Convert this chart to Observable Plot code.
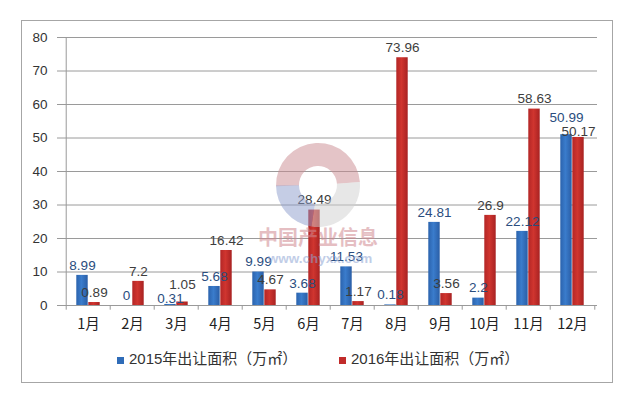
<!DOCTYPE html>
<html>
<head>
<meta charset="utf-8">
<script src="https://cdn.jsdelivr.net/npm/d3@7"></script>
<script src="https://cdn.jsdelivr.net/npm/@observablehq/plot@0.6"></script>
<style>
  html, body { margin: 0; padding: 0; background: #fff; }
  #wrap { position: relative; width: 640px; height: 408px; overflow: hidden;
          font-family: "Liberation Sans", "Noto Sans CJK SC", sans-serif; }
  #border { position: absolute; left: 21px; top: 20px; width: 592px; height: 363px;
            border: 1px solid #a6a6a6; box-sizing: border-box; pointer-events: none; }
  #chart { position: absolute; left: 0; top: 0; }
  #legend { position: absolute; left: 0; top: 349px; width: 640px; height: 22px;
            font-family: "Liberation Sans", "Noto Sans CJK SC", sans-serif; font-size: 15px; color: #333; }
  .item { position: absolute; top: 0; white-space: nowrap; line-height: 20px; }
  .sw { display: inline-block; width: 7px; height: 7px; margin-right: 5px; vertical-align: 0px; }
</style>
</head>
<body>
<div id="wrap">
  <div id="chart"></div>
  <div id="border"></div>
  <div id="legend"></div>
</div>
<script>
const months = ["1月","2月","3月","4月","5月","6月","7月","8月","9月","10月","11月","12月"];
const area2015 = [8.99, 0, 0.31, 5.68, 9.99, 3.68, 11.53, 0.18, 24.81, 2.2, 22.12, 50.99];
const area2016 = [0.89, 7.2, 1.05, 16.42, 4.67, 28.49, 1.17, 73.96, 3.56, 26.9, 58.63, 50.17];
const seriesNames = ["2015年出让面积（万㎡）", "2016年出让面积（万㎡）"];
const yTicks = [0, 10, 20, 30, 40, 50, 60, 70, 80];
const watermark = ["中国产业信息", "www.chyxx.com"];

const W = 640, H = 340;
const mL = 62, mR = 43, mT = 37, mB = 35;
const bw = (W - mL - mR) / months.length;
const barW = 12;
const k = (H - mT - mB) / 80;          // pixels per unit
const off = 10 / k, gap = 14 / k, minOff = 6 / k;

// label placement: above bar, with pairs that would collide pushed apart
const lab15 = [], lab16 = [];
months.forEach((m, i) => {
  const b = area2015[i], r = area2016[i];
  let yb = b + off, yr = r + off;
  if (Math.abs(yb - yr) < gap) {
    const mid = (yb + yr) / 2;
    if (b >= r) { yr = Math.max(mid - gap / 2, r + minOff); yb = yr + gap; }
    else { yb = Math.max(mid - gap / 2, b + minOff); yr = yb + gap; }
  }
  lab15.push({month: m, y: yb, text: String(b)});
  lab16.push({month: m, y: yr, text: String(r)});
});

const d15 = months.map((m, i) => ({month: m, value: area2015[i]}));
const d16 = months.map((m, i) => ({month: m, value: area2016[i]}));
const gridTicks = yTicks.filter(t => t > 0);

const plot = Plot.plot({
  width: W, height: H,
  marginLeft: mL, marginRight: mR, marginTop: mT, marginBottom: mB,
  style: {background: "transparent", fontFamily: "Liberation Sans, Noto Sans CJK SC, sans-serif"},
  x: {domain: months, padding: 0, label: null},
  y: {domain: [0, 80], label: null},
  marks: [
    Plot.ruleY(gridTicks, {stroke: "#9a9a9a", strokeWidth: 1}),
    Plot.axisY({ticks: yTicks, tickSize: 5, tickPadding: 10, stroke: "#9a9a9a",
                fill: "#333", fontSize: 13.5, label: null}),
    Plot.axisX({tickSize: 0, tickPadding: 13, fill: "#222", fontSize: 14.5, label: null,
                fontFamily: "Noto Sans CJK SC, sans-serif"}),
    Plot.barY(d15, {x: "month", y: "value", fill: "url(#gBlue)",
                    insetLeft: bw / 2 - barW, insetRight: bw / 2}),
    Plot.barY(d16, {x: "month", y: "value", fill: "url(#gRed)",
                    insetLeft: bw / 2, insetRight: bw / 2 - barW}),
    Plot.ruleY([0], {stroke: "#9a9a9a", strokeWidth: 1}),
    Plot.ruleX([months[0]], {x: d => d, y1: 0, y2: 80, dx: -bw / 2, stroke: "#9a9a9a"}),
    Plot.ruleX(months, {x: d => d, y1: 0, y2: -1.4, dx: -bw / 2, stroke: "#9a9a9a"}),
    Plot.ruleX([months[months.length - 1]], {x: d => d, y1: 0, y2: -1.4, dx: bw / 2, stroke: "#9a9a9a"}),
    Plot.text(lab15, {x: "month", y: "y", text: "text", dx: -barW / 2,
                      fill: "#2a4d7e", fontSize: 13.5}),
    Plot.text(lab16, {x: "month", y: "y", text: "text", dx: barW / 2,
                      fill: "#3d3d3d", fontSize: 13.5})
  ]
});

// gradients for bars
const ns = "http://www.w3.org/2000/svg";
const defs = document.createElementNS(ns, "defs");
function grad(id, stops) {
  const g = document.createElementNS(ns, "linearGradient");
  g.setAttribute("id", id);
  g.setAttribute("x1", "0"); g.setAttribute("x2", "1"); g.setAttribute("y1", "0"); g.setAttribute("y2", "0");
  stops.forEach(([o, c]) => {
    const s = document.createElementNS(ns, "stop");
    s.setAttribute("offset", o); s.setAttribute("stop-color", c);
    g.appendChild(s);
  });
  defs.appendChild(g);
}
grad("gBlue", [["0", "#2b63ad"], ["0.45", "#3a7ccc"], ["1", "#2a5ea6"]]);
grad("gRed", [["0", "#b32626"], ["0.45", "#d0352f"], ["1", "#a82222"]]);
plot.insertBefore(defs, plot.firstChild);

// watermark overlay
const cx = 318, cy = 185;
const wm = d3.select(plot).append("g").attr("pointer-events", "none");
const arc = d3.arc().innerRadius(19).outerRadius(42);
const segs = [
  {a0: -1.6, a1: 1.5, c: "#c98a90"},
  {a0: 1.5, a1: 3.3, c: "#d0d0d0"},
  {a0: 3.3, a1: 4.7, c: "#8b9ccc"}
];
segs.forEach(s => {
  wm.append("path")
    .attr("d", arc({startAngle: s.a0, endAngle: s.a1}))
    .attr("transform", `translate(${cx},${cy})`)
    .attr("fill", s.c).attr("opacity", 0.5);
});
wm.append("text").attr("x", 318).attr("y", 240).attr("text-anchor", "middle")
  .attr("dominant-baseline", "middle")
  .attr("font-family", "Noto Sans CJK SC, sans-serif").attr("font-weight", "bold")
  .attr("font-size", 20).attr("fill", "#d08a92").attr("opacity", 0.55).text(watermark[0]);
wm.append("text").attr("x", 320).attr("y", 259).attr("text-anchor", "middle")
  .attr("dominant-baseline", "middle")
  .attr("font-family", "Liberation Sans, sans-serif").attr("font-weight", "bold")
  .attr("font-size", 13.5).attr("fill", "#8fa6d4").attr("opacity", 0.55).text(watermark[1]);

document.getElementById("chart").appendChild(plot);

// legend
const legend = document.getElementById("legend");
const colors = ["#2f6cb8", "#c12b2a"];
const lefts = [117, 339];
seriesNames.forEach((n, i) => {
  const it = document.createElement("div");
  it.className = "item";
  it.style.left = lefts[i] + "px";
  const sw = document.createElement("span");
  sw.className = "sw"; sw.style.background = colors[i];
  it.appendChild(sw);
  it.appendChild(document.createTextNode(n));
  legend.appendChild(it);
});
</script>
</body>
</html>
